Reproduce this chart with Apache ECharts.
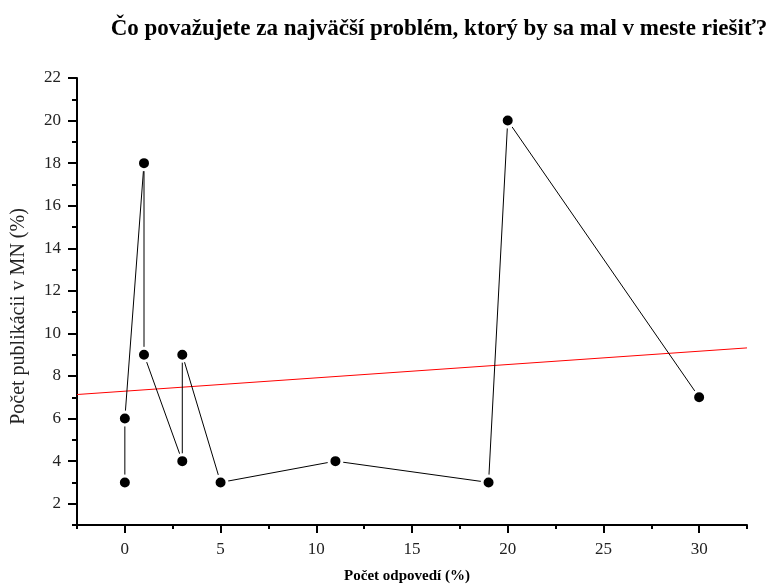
<!DOCTYPE html>
<html>
<head>
<meta charset="utf-8">
<script src="https://cdn.jsdelivr.net/npm/echarts@6/dist/echarts.min.js"></script>
<style>html,body{margin:0;padding:0;background:#fff}#c{width:774px;height:587px}</style>
</head>
<body>
<div id="c"></div>
<script>
const titleText = 'Čo považujete za najväčší problém, ktorý by sa mal v meste riešiť?';
const xName = 'Počet odpovedí (%)';
const yName = 'Počet publikácii v MN (%)';
const xValues = [0, 0, 1, 1, 3, 3, 5, 11, 19, 20, 30];
const yValues = [3, 6, 18, 9, 4, 9, 3, 4, 3, 20, 7];
const fitX = [-2.5, 32.5];
const fitY = [7.13, 9.32];
const xMajorTicks = [0, 5, 10, 15, 20, 25, 30];
const xMinorTicks = [-2.5, 2.5, 7.5, 12.5, 17.5, 22.5, 27.5, 32.5];
const yMajorTicks = [2, 4, 6, 8, 10, 12, 14, 16, 18, 20, 22];
const yMinorTicks = [1, 3, 5, 7, 9, 11, 13, 15, 17, 19, 21];

const serif = '"Liberation Serif", "DejaVu Serif", serif';
const chart = echarts.init(document.getElementById('c'));
const base = {min: -2.5, max: 32.5, type: 'value', splitLine: {show: false}};
chart.setOption({
  animation: false,
  title: {
    text: titleText, left: 434, top: 13, textAlign: 'center',
    textStyle: {fontFamily: serif, fontWeight: 'bold', fontSize: 23, color: '#000'}
  },
  grid: {left: 77, right: 27, top: 78, bottom: 62, containLabel: false, outerBoundsMode: 'none'},
  xAxis: [
    Object.assign({}, base, {
      position: 'bottom',
      name: xName, nameLocation: 'middle', nameGap: 44,
      nameTextStyle: {fontFamily: serif, fontWeight: 'bold', fontSize: 15, color: '#000', padding: [0, 10, 0, 0]},
      axisLine: {show: true, onZero: false, lineStyle: {color: '#000', width: 2}},
      axisTick: {show: true, inside: false, length: 8, customValues: xMajorTicks, lineStyle: {color: '#000', width: 2}},
      axisLabel: {customValues: xMajorTicks, margin: 16, fontFamily: serif, fontSize: 17, color: '#222'}
    }),
    Object.assign({}, base, {
      position: 'bottom',
      axisLine: {show: false, onZero: false},
      axisTick: {show: true, inside: false, length: 4, customValues: xMinorTicks, lineStyle: {color: '#000', width: 2}},
      axisLabel: {show: false}
    })
  ],
  yAxis: [
    {
      type: 'value', min: 1, max: 22, position: 'left', splitLine: {show: false},
      name: yName, nameLocation: 'middle', nameGap: 48,
      nameTextStyle: {fontFamily: serif, fontSize: 20, color: '#222', padding: [0, 30, 0, 0]},
      axisLine: {show: true, onZero: false, lineStyle: {color: '#000', width: 2}},
      axisTick: {show: true, inside: false, length: 9, customValues: yMajorTicks, lineStyle: {color: '#000', width: 2}},
      axisLabel: {customValues: yMajorTicks, margin: 16, fontFamily: serif, fontSize: 17, color: '#222'}
    },
    {
      type: 'value', min: 1, max: 22, position: 'left', splitLine: {show: false},
      axisLine: {show: false, onZero: false},
      axisTick: {show: true, inside: false, length: 5, customValues: yMinorTicks, lineStyle: {color: '#000', width: 2}},
      axisLabel: {show: false}
    }
  ],
  series: [
    {
      type: 'line', xAxisIndex: 0, yAxisIndex: 0,
      data: fitX.map((x, i) => [x, fitY[i]]),
      symbol: 'none', lineStyle: {color: '#ff0000', width: 1}, z: 2
    },
    {
      type: 'line', xAxisIndex: 0, yAxisIndex: 0,
      data: xValues.map((x, i) => [x, yValues[i]]),
      symbol: 'circle', symbolSize: 13,
      itemStyle: {color: '#000', borderColor: '#fff', borderWidth: 3},
      lineStyle: {color: '#000', width: 1}, z: 3
    }
  ]
});
</script>
</body>
</html>
